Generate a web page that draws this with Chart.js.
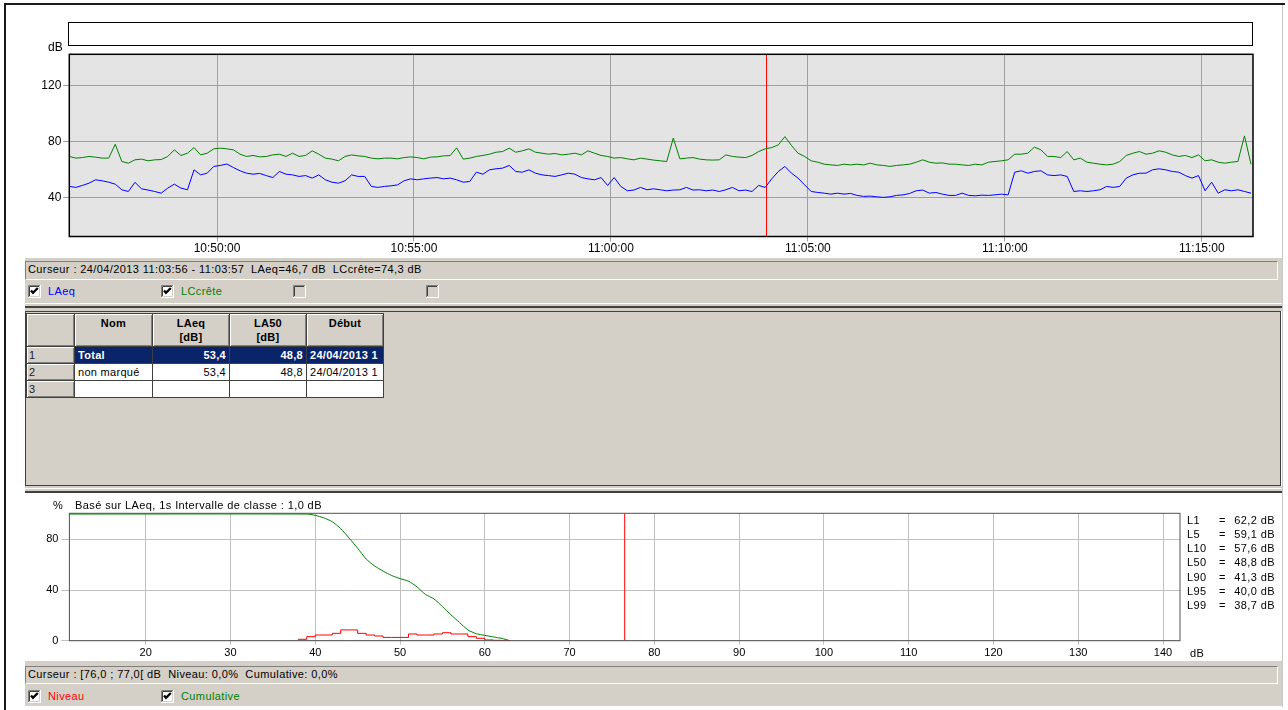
<!DOCTYPE html>
<html>
<head>
<meta charset="utf-8">
<script src="https://cdn.jsdelivr.net/npm/chart.js@4.4.1/dist/chart.umd.min.js"></script>
<style>
  body { margin: 0; background: #fff; font-family: "Liberation Sans", Arial, sans-serif; font-size: 11px; color: #000; }
  #page { position: relative; width: 1288px; height: 710px; overflow: hidden; }
  .a { position: absolute; }
  .gray { background: #d4d0c8; }
  .txt { white-space: nowrap; line-height: 13px; letter-spacing: 0.4px; }
  .sunk { box-sizing: border-box; border-top: 1px solid #808080; border-left: 1px solid #808080; border-bottom: 1px solid #fff; border-right: 1px solid #fff; }
  #grid { position: absolute; left: 26px; top: 313px; border-collapse: collapse; table-layout: fixed; font-size: 11px; letter-spacing: 0.3px; }
  #grid td, #grid th { border: 1px solid #404040; padding: 0 3px; overflow: hidden; white-space: nowrap; }
  #grid th { background: #d4d0c8; font-weight: bold; vertical-align: top; text-align: center; height: 30px; padding-top: 2px; line-height: 14px; box-shadow: inset 1px 1px #fff, inset -1px -1px #808080; }
  #grid td { background: #fff; height: 16px; line-height: 15px; }
  #grid td.rh { background: #d4d0c8; color: #222; padding-left: 2px; box-shadow: inset 1px 1px #fff, inset -1px -1px #808080; }
  #grid td.num { text-align: right; }
  #grid tr.sel td { background: #0a246a; color: #fff; font-weight: bold; }
  #grid tr.sel td.rh { background: #d4d0c8; color: #222; font-weight: normal; }
</style>
</head>
<body>
<div id="page">
  <canvas id="levelChart" class="a" width="1277" height="254" style="left:5px;top:4px"></canvas>
  <div class="a" style="left:68px;top:22px;width:1185px;height:24px;box-sizing:border-box;border:1px solid #000;background:#fff"></div>
  <div class="a txt" style="left:48px;top:41px;font-size:12px;letter-spacing:0">dB</div>

  <div class="a gray" style="left:25px;top:258px;width:1257px;height:53px"></div>
  <div class="a sunk" style="left:25px;top:261px;width:1253px;height:19px"></div>
  <div class="a txt" style="left:28px;top:263px">Curseur : 24/04/2013 11:03:56 - 11:03:57&nbsp; LAeq=46,7 dB&nbsp; LCcrête=74,3 dB</div>
  <div id="cbTop"></div>
  <div class="a" style="left:25px;top:303px;width:1257px;height:1px;background:#fff"></div>
  <div class="a" style="left:25px;top:306px;width:1257px;height:2px;background:#404040"></div>

  <div class="a gray" style="left:25px;top:311px;width:1256px;height:175px;box-sizing:border-box;border:1px solid #404040"></div>
  <table id="grid"></table>
  <div class="a gray" style="left:25px;top:486px;width:1257px;height:5px"></div>
  <div class="a" style="left:25px;top:488px;width:1257px;height:1px;background:#fff"></div>
  <div class="a" style="left:25px;top:491px;width:1257px;height:2px;background:#404040"></div>

  <canvas id="distChart" class="a" width="1200" height="166" style="left:5px;top:494px"></canvas>
  <div class="a txt" style="left:53px;top:499px">%</div>
  <div class="a txt" style="left:75px;top:499px">Basé sur LAeq, 1s Intervalle de classe : 1,0 dB</div>
  <div id="lStats"></div>
  <div class="a txt" style="left:1190px;top:647px">dB</div>

  <div class="a gray" style="left:25px;top:661px;width:1257px;height:45px"></div>
  <div class="a sunk" style="left:25px;top:666px;width:1253px;height:18px"></div>
  <div class="a txt" style="left:28px;top:668px">Curseur : [76,0 ; 77,0[ dB&nbsp; Niveau: 0,0%&nbsp; Cumulative: 0,0%</div>
  <div id="cbBottom"></div>

  <div class="a" style="left:4px;top:3px;width:2px;height:707px;background:#1a1a1a"></div>
  <div class="a" style="left:4px;top:3px;width:1281px;height:2px;background:#1a1a1a"></div>
  <div class="a" style="left:1282px;top:5px;width:1px;height:702px;background:#c8c8c8"></div>
</div>

<script>
// time axis, seconds since midnight
var startSec = 38775;      // 10:46:15
var endSec = 40578;        // 11:16:18
var sampleStep = 10;       // one reading every 10 s
var timeTicks = [39000, 39300, 39600, 39900, 40200, 40500];
var dbMin = 12.5, dbMax = 142;
var dbTicks = [40, 80, 120];
var cursorTime = 39837;    // 11:03:57

var laeq = [
  48.1, 47.4, 48.8, 50.4, 52.8, 52.1, 51.1, 49.7, 45.7, 44.5,
  51.0, 46.4, 45.5, 44.5, 43.3, 46.9, 49.7, 46.9, 45.7, 59.9,
  56.3, 57.5, 62.3, 63.0, 64.0, 61.5, 59.2, 57.5, 56.8, 57.3,
  55.8, 54.4, 58.7, 56.8, 56.3, 55.2, 55.8, 54.0, 56.3, 52.8,
  51.1, 50.4, 52.1, 56.3, 55.2, 55.2, 48.1, 47.4, 48.1, 48.5,
  49.2, 52.1, 53.5, 52.8, 53.5, 54.0, 54.4, 53.5, 54.0, 52.8,
  51.1, 51.6, 58.2, 56.8, 59.9, 60.6, 61.1, 63.0, 58.7, 58.2,
  59.9, 57.5, 56.3, 55.8, 55.2, 56.3, 57.5, 56.8, 54.4, 53.5,
  52.8, 54.4, 48.8, 54.4, 48.1, 45.0, 45.5, 47.4, 45.7, 46.4,
  45.7, 45.0, 45.5, 45.7, 47.4, 45.5, 45.7, 45.0, 45.5, 44.5,
  45.7, 47.4, 45.0, 45.5, 44.5, 48.8, 47.4, 53.5, 58.7, 62.3,
  57.5, 54.0, 49.2, 44.5, 43.8, 43.3, 42.6, 43.3, 42.6, 43.1,
  41.7, 41.0, 41.2, 40.7, 40.3, 40.7, 41.7, 42.1, 43.1, 45.0,
  45.5, 43.3, 43.8, 42.6, 41.7, 41.7, 43.3, 41.7, 41.4, 41.9,
  41.7, 42.1, 42.6, 42.1, 58.2, 59.2, 57.5, 58.7, 59.2, 56.3,
  55.8, 56.3, 55.2, 44.5, 45.0, 44.5, 45.0, 45.7, 48.1, 47.4,
  48.1, 54.0, 56.3, 57.5, 57.5, 59.9, 60.6, 59.9, 58.7, 58.2,
  55.8, 54.0, 55.8, 45.0, 51.1, 43.3, 45.7, 45.0, 45.7, 44.5,
  43.3
];
var lccrete = [
  69.4, 68.2, 68.6, 69.4, 68.9, 68.2, 68.2, 78.1, 65.8, 64.6,
  67.0, 67.5, 66.3, 67.0, 67.2, 69.4, 74.1, 70.1, 71.7, 75.7,
  70.5, 71.7, 74.8, 75.3, 74.8, 74.1, 71.0, 69.4, 70.1, 69.1,
  69.4, 70.5, 71.0, 69.4, 71.7, 69.4, 70.1, 73.4, 71.0, 68.2,
  67.5, 66.3, 69.4, 70.5, 69.8, 69.4, 68.2, 67.7, 68.2, 68.2,
  67.7, 68.6, 69.1, 68.6, 67.7, 68.9, 69.1, 69.8, 70.0, 75.5,
  67.5, 68.2, 69.4, 70.1, 71.0, 72.4, 72.9, 75.3, 72.4, 73.4,
  74.8, 72.4, 71.7, 71.0, 71.5, 70.5, 71.0, 71.7, 70.5, 73.4,
  71.7, 70.1, 69.4, 68.2, 68.6, 67.7, 67.0, 68.2, 67.5, 66.8,
  66.3, 65.8, 82.4, 67.7, 68.2, 68.6, 67.5, 67.0, 66.8, 67.0,
  70.5, 69.4, 68.9, 68.6, 70.1, 72.9, 74.8, 75.7, 77.6, 83.5,
  77.2, 71.7, 69.4, 66.3, 65.3, 63.9, 63.4, 63.0, 63.9, 63.4,
  63.9, 63.4, 64.6, 63.4, 63.0, 62.3, 63.0, 63.4, 63.9, 65.3,
  67.0, 65.3, 64.6, 64.8, 63.9, 63.9, 63.4, 63.0, 63.9, 63.4,
  65.3, 65.8, 66.3, 67.0, 71.0, 71.0, 71.7, 76.0, 74.1, 69.4,
  69.4, 68.6, 72.9, 67.0, 68.2, 65.3, 64.6, 63.9, 63.4, 63.9,
  65.8, 70.1, 71.7, 72.9, 71.0, 71.7, 73.4, 72.4, 70.5, 69.4,
  70.1, 68.6, 70.5, 66.3, 67.0, 65.3, 64.6, 65.3, 65.8, 84.0,
  63.9
];

// distribution (bottom chart)
var levelMin = 11, levelMax = 142;
var levelTicks = [20, 30, 40, 50, 60, 70, 80, 90, 100, 110, 120, 130, 140];
var pctMax = 100.6;
var pctTicks = [0, 40, 80];
var classWidth = 1;
var histClasses = [38, 39, 40, 41, 42, 43, 44, 45, 46, 47, 48, 49, 50, 51, 52, 53, 54, 55, 56, 57, 58, 59, 60, 61, 62];
var niveau = [1.1, 3.2, 4.5, 4.5, 5.8, 8.5, 8.5, 5.8, 4.5, 3.7, 2.6, 2.6, 2.6, 5.3, 4.5, 4.5, 5.3, 6.3, 5.3, 5.3, 3.2, 1.9, 0.6, 0.3, 0.1];
var cumulLevels = [11, 39, 40, 41, 42, 43, 44, 45, 46, 47, 48, 49, 50, 51, 52, 53, 54, 55, 56, 57, 58, 59, 60, 61, 62, 63];
var cumulative = [100, 100, 99, 97, 94, 88.5, 81, 73, 64.5, 59, 55, 51.5, 49, 47, 42.5, 36.5, 33, 27, 20.5, 14.5, 8.5, 5.5, 4.2, 3, 1.8, 0];
var cursorLevel = 76.5;

var lNames = ['L1', 'L5', 'L10', 'L50', 'L90', 'L95', 'L99'];
var lValues = ['62,2', '59,1', '57,6', '48,8', '41,3', '40,0', '38,7'];

var gridHead = ['', 'Nom', 'LAeq<br>[dB]', 'LA50<br>[dB]', 'Début'];
var gridWidths = [41, 71, 70, 70, 70];
var gridRows = [
  ['1', 'Total', '53,4', '48,8', '24/04/2013 1'],
  ['2', 'non marqué', '53,4', '48,8', '24/04/2013 1'],
  ['3', '', '', '', '']
];

Chart.defaults.font.family = '"Liberation Sans", Arial, sans-serif';
Chart.defaults.color = '#000';

function hms(sec) {
  var h = Math.floor(sec / 3600), m = Math.floor(sec % 3600 / 60), s = Math.round(sec % 60);
  return h + ':' + String(m).padStart(2, '0') + ':' + String(s).padStart(2, '0');
}

// plot background and frame
var plotFrame = {
  id: 'plotFrame',
  beforeDraw: function(chart, args, opts) {
    var a = chart.chartArea, ctx = chart.ctx;
    ctx.save();
    ctx.fillStyle = opts.fill;
    ctx.fillRect(a.left, a.top, a.right - a.left, a.bottom - a.top);
    ctx.restore();
  },
  afterDraw: function(chart, args, opts) {
    var a = chart.chartArea, ctx = chart.ctx;
    ctx.save();
    ctx.strokeStyle = opts.stroke;
    ctx.lineWidth = opts.width;
    ctx.strokeRect(a.left, a.top, a.right - a.left, a.bottom - a.top);
    ctx.restore();
  }
};

function series(vals) {
  return vals.map(function(v, i) { return { x: startSec + i * sampleStep, y: v }; });
}

// TOP: level vs time
new Chart(document.getElementById('levelChart'), {
  type: 'line',
  data: {
    datasets: [
      { label: 'LCcrête', data: series(lccrete), borderColor: '#008000', borderWidth: 1, pointRadius: 0, tension: 0 },
      { label: 'LAeq', data: series(laeq), borderColor: '#0000ff', borderWidth: 1, pointRadius: 0, tension: 0 },
      { label: 'Curseur', data: [{ x: cursorTime, y: dbMin }, { x: cursorTime, y: dbMax }], borderColor: '#ff0000', borderWidth: 1, pointRadius: 0 }
    ]
  },
  options: {
    responsive: false,
    animation: false,
    devicePixelRatio: 1,
    layout: { padding: { top: 50.3, right: 29, left: 0, bottom: 0 } },
    plugins: {
      legend: { display: false },
      tooltip: { enabled: false },
      plotFrame: { fill: '#e4e4e4', stroke: '#000', width: 1.5 }
    },
    scales: {
      x: {
        type: 'linear', min: startSec, max: endSec,
        afterBuildTicks: function(s) { s.ticks = timeTicks.map(function(v) { return { value: v }; }); },
        afterFit: function(s) { s.height = 21.5; },
        grid: { color: '#a0a0a0', tickLength: 5 },
        border: { display: false },
        ticks: { padding: 0, autoSkip: false, maxRotation: 0, font: { size: 12 }, callback: function(v) { return hms(v); } }
      },
      y: {
        min: dbMin, max: dbMax,
        afterBuildTicks: function(s) { s.ticks = dbTicks.map(function(v) { return { value: v }; }); },
        afterFit: function(s) { s.width = 64.3; },
        grid: { color: '#a0a0a0', tickLength: 6 },
        border: { display: false },
        ticks: { padding: 2, font: { size: 12 } }
      }
    }
  },
  plugins: [plotFrame]
});

// BOTTOM: level distribution
var histPts = [{ x: histClasses[0], y: 0 }];
histClasses.forEach(function(c, k) { histPts.push({ x: c, y: niveau[k] }); });
histPts.push({ x: histClasses[histClasses.length - 1] + classWidth, y: 0 });

var cumPts = cumulLevels.map(function(l, k) { return { x: l, y: cumulative[k] }; });

new Chart(document.getElementById('distChart'), {
  type: 'line',
  data: {
    datasets: [
      { label: 'Niveau', data: histPts, stepped: 'before', borderColor: '#ff0000', borderWidth: 1, pointRadius: 0 },
      { label: 'Cumulative', data: cumPts, borderColor: '#008000', borderWidth: 1, pointRadius: 0, tension: 0.2 },
      { label: 'Curseur', data: [{ x: cursorLevel, y: 0 }, { x: cursorLevel, y: pctMax }], borderColor: '#ff0000', borderWidth: 1, pointRadius: 0 }
    ]
  },
  options: {
    responsive: false,
    animation: false,
    devicePixelRatio: 1,
    layout: { padding: { top: 19.3, right: 25, left: 0, bottom: 0 } },
    plugins: {
      legend: { display: false },
      tooltip: { enabled: false },
      plotFrame: { fill: '#fff', stroke: '#505050', width: 1 }
    },
    scales: {
      x: {
        type: 'linear', min: levelMin, max: levelMax,
        afterBuildTicks: function(s) { s.ticks = levelTicks.map(function(v) { return { value: v }; }); },
        afterFit: function(s) { s.height = 19.3; },
        grid: { color: '#c0c0c0', tickLength: 4 },
        border: { display: false },
        ticks: { padding: 2, autoSkip: false, maxRotation: 0, font: { size: 11 } }
      },
      y: {
        min: 0, max: pctMax,
        afterBuildTicks: function(s) { s.ticks = pctTicks.map(function(v) { return { value: v }; }); },
        afterFit: function(s) { s.width = 64.4; },
        grid: { color: '#c0c0c0', tickLength: 8 },
        border: { display: false },
        ticks: { padding: 3, font: { size: 11 } }
      }
    }
  },
  plugins: [plotFrame]
});

// percentile list on the right
var lHtml = '';
for (var i = 0; i < lNames.length; i++) {
  var y = 513.5 + i * 14.3;
  lHtml += '<div class="a txt" style="left:1187px;top:' + y + 'px">' + lNames[i] + '</div>';
  lHtml += '<div class="a txt" style="left:1219px;top:' + y + 'px">=</div>';
  lHtml += '<div class="a txt" style="left:1205px;width:70px;text-align:right;top:' + y + 'px">' + lValues[i] + ' dB</div>';
}
document.getElementById('lStats').innerHTML = lHtml;

// results grid
var tHtml = '<colgroup>';
gridWidths.forEach(function(w) { tHtml += '<col style="width:' + (w + 7) + 'px">'; });
tHtml += '</colgroup><tr>';
gridHead.forEach(function(h) { tHtml += '<th>' + h + '</th>'; });
tHtml += '</tr>';
gridRows.forEach(function(r, k) {
  tHtml += '<tr' + (k === 0 ? ' class="sel"' : '') + '>';
  r.forEach(function(c, j) {
    var cls = j === 0 ? 'rh' : (j === 2 || j === 3 ? 'num' : '');
    tHtml += '<td class="' + cls + '">' + c + '</td>';
  });
  tHtml += '</tr>';
});
document.getElementById('grid').innerHTML = tHtml;

// windows-style check boxes
function checkBox(x, y, checked, label, color) {
  var s = '<svg class="a" style="left:' + x + 'px;top:' + y + 'px" width="13" height="13">' +
    '<rect x="0" y="0" width="13" height="13" fill="' + (checked ? '#fff' : '#d4d0c8') + '"/>' +
    '<path d="M0.5 12.5V0.5H12.5" stroke="#808080" fill="none"/>' +
    '<path d="M1.5 11.5V1.5H11.5" stroke="#404040" fill="none"/>' +
    '<path d="M0 12.5H12.5V0" stroke="#fff" fill="none"/>' +
    '<path d="M1 11.5H11.5V1" stroke="#d4d0c8" fill="none"/>';
  if (checked) s += '<polyline points="3,5.5 5,7.8 9.8,3" stroke="#000" stroke-width="2.3" fill="none"/>';
  s += '</svg>';
  if (label) s += '<div class="a txt" style="left:' + (x + 20) + 'px;top:' + y + 'px;color:' + color + '">' + label + '</div>';
  return s;
}
document.getElementById('cbTop').innerHTML =
  checkBox(28, 285, true, 'LAeq', '#0000ff') +
  checkBox(161, 285, true, 'LCcrête', '#008000') +
  checkBox(293, 285, false) +
  checkBox(426, 285, false);
document.getElementById('cbBottom').innerHTML =
  checkBox(28, 690, true, 'Niveau', '#ff0000') +
  checkBox(161, 690, true, 'Cumulative', '#008000');
</script>
</body>
</html>
